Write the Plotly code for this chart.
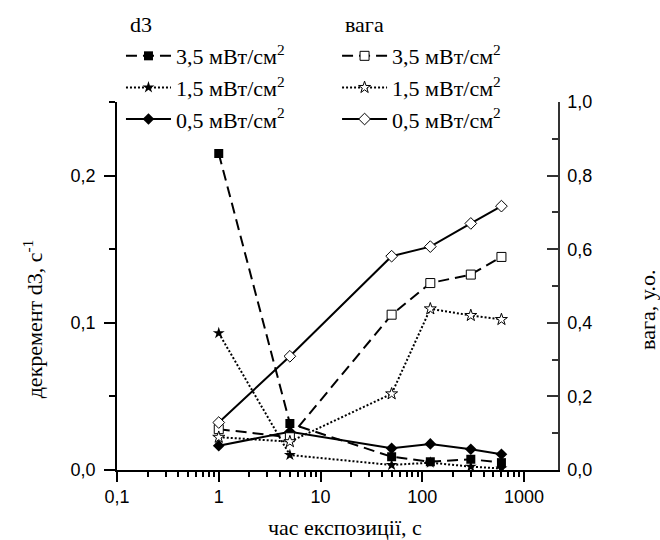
import plotly.graph_objects as go

# exposure time, s
t = [1, 5, 50, 120, 300, 600]

# decrement d3, 1/s (left axis)
d3_35 = [0.215, 0.0316, 0.009, 0.0056, 0.0073, 0.005]
d3_15 = [0.093, 0.0102, 0.0034, 0.005, 0.0023, 0.001]
d3_05 = [0.0165, 0.026, 0.0147, 0.0177, 0.0141, 0.0107]

# weight, a.u. (right axis)
w_35 = [0.111, 0.089, 0.422, 0.508, 0.531, 0.579]
w_15 = [0.089, 0.077, 0.207, 0.438, 0.420, 0.409]
w_05 = [0.129, 0.309, 0.581, 0.607, 0.670, 0.717]

labels = ["3,5 мВт/см<sup>2</sup>", "1,5 мВт/см<sup>2</sup>", "0,5 мВт/см<sup>2</sup>"]
dashes = ["11px,6px", "2px,2px", "solid"]

x_ticks = [0.1, 1, 10, 100, 1000]
x_ticktext = ["0,1", "1", "10", "100", "1000"]
y1_ticks = [0.0, 0.1, 0.2]
y1_ticktext = ["0,0", "0,1", "0,2"]
y2_ticks = [0.0, 0.2, 0.4, 0.6, 0.8, 1.0]
y2_ticktext = ["0,0", "0,2", "0,4", "0,6", "0,8", "1,0"]

fig = go.Figure()

d3_series = [d3_35, d3_15, d3_05]
d3_symbols = ["square", "star", "diamond"]
for ys, lab, dash, sym in zip(d3_series, labels, dashes, d3_symbols):
    fig.add_trace(go.Scatter(
        x=t, y=ys, name=lab, mode="lines+markers",
        line=dict(color="black", width=2, dash=dash),
        marker=dict(symbol=sym, size=9, color="black"),
        legend="legend", yaxis="y"))

w_series = [w_35, w_15, w_05]
w_symbols = ["square", "star", "diamond"]
for ys, lab, dash, sym in zip(w_series, labels, dashes, w_symbols):
    fig.add_trace(go.Scatter(
        x=t, y=ys, name=lab, mode="lines+markers",
        line=dict(color="black", width=2, dash=dash),
        marker=dict(symbol=sym, size=9, color="white",
                    line=dict(color="black", width=1)),
        legend="legend2", yaxis="y2"))

tick_font = dict(family="Liberation Sans, Arial, sans-serif", size=18, color="black")
serif = "Times New Roman, Liberation Serif, serif"

minor_x = [v * m for v in [0.1, 1, 10, 100] for m in range(2, 10)]

fig.update_layout(
    width=660, height=540,
    margin=dict(l=117, r=102, t=102, b=70, autoexpand=False),
    plot_bgcolor="white", paper_bgcolor="white",
    xaxis=dict(
        type="log", range=[-1, 3.334],
        tickvals=x_ticks, ticktext=x_ticktext,
        ticks="outside", ticklen=10, tickwidth=1.5, tickcolor="black",
        minor=dict(tickvals=minor_x, ticks="outside", ticklen=5,
                   tickwidth=1.5, tickcolor="black", showgrid=False),
        showline=True, linecolor="black", linewidth=1.5,
        showgrid=False, zeroline=False, tickfont=tick_font,
    ),
    yaxis=dict(
        range=[0, 0.25],
        tickvals=y1_ticks, ticktext=y1_ticktext,
        ticks="outside", ticklen=11, tickwidth=1.5, tickcolor="black",
        ticklabelstandoff=5,
        minor=dict(tickvals=[0.05, 0.15, 0.25], ticks="outside", ticklen=6,
                   tickwidth=1.5, tickcolor="black", showgrid=False),
        showline=True, linecolor="black", linewidth=1.5,
        showgrid=False, zeroline=False, tickfont=tick_font,
    ),
    yaxis2=dict(
        range=[0, 1.0], overlaying="y", side="right",
        tickvals=y2_ticks, ticktext=y2_ticktext,
        ticks="inside", ticklen=11, tickwidth=1.5, tickcolor="#333",
        ticklabelstandoff=4,
        minor=dict(tickvals=[0.1, 0.3, 0.5, 0.7, 0.9], ticks="inside",
                   ticklen=6, tickwidth=1.5, tickcolor="#333", showgrid=False),
        showline=True, linecolor="#333", linewidth=1.5,
        showgrid=False, zeroline=False, tickfont=tick_font,
    ),
    legend=dict(
        x=0.009, y=1.182, xanchor="left", yanchor="top",
        bgcolor="rgba(0,0,0,0)", font=dict(family=serif, size=22, color="black"),
        tracegroupgap=0, itemwidth=45,
    ),
    legend2=dict(
        x=0.499, y=1.182, xanchor="left", yanchor="top",
        bgcolor="rgba(0,0,0,0)", font=dict(family=serif, size=22, color="black"),
        tracegroupgap=0, itemwidth=45,
    ),
    annotations=[
        dict(text="d3", xref="paper", yref="paper",
             x=(128 - 117) / 441, y=(470 - 25) / 368, xanchor="left", yanchor="middle",
             showarrow=False, font=dict(family=serif, size=22, color="black")),
        dict(text="вага", xref="paper", yref="paper",
             x=(343 - 117) / 441, y=(470 - 25) / 368, xanchor="left", yanchor="middle",
             showarrow=False, font=dict(family=serif, size=22, color="black")),
        dict(text="декремент d3, с<sup>-1</sup>", xref="paper", yref="paper",
             x=-0.19, y=0.41, xanchor="center", yanchor="middle",
             textangle=-90, showarrow=False,
             font=dict(family=serif, size=22, color="black")),
        dict(text="вага, у.о.", xref="paper", yref="paper",
             x=1.204, y=0.435, xanchor="center", yanchor="middle",
             textangle=-90, showarrow=False,
             font=dict(family=serif, size=22, color="black")),
        dict(text="час експозиції, с", xref="paper", yref="paper",
             x=0.517, y=-0.155, xanchor="center", yanchor="middle",
             showarrow=False,
             font=dict(family=serif, size=22, color="black")),
    ],
)

fig.write_html(
    "out.html",
    config={"displayModeBar": False},
    post_script="document.body.style.margin='0';document.body.style.overflow='hidden';",
)
